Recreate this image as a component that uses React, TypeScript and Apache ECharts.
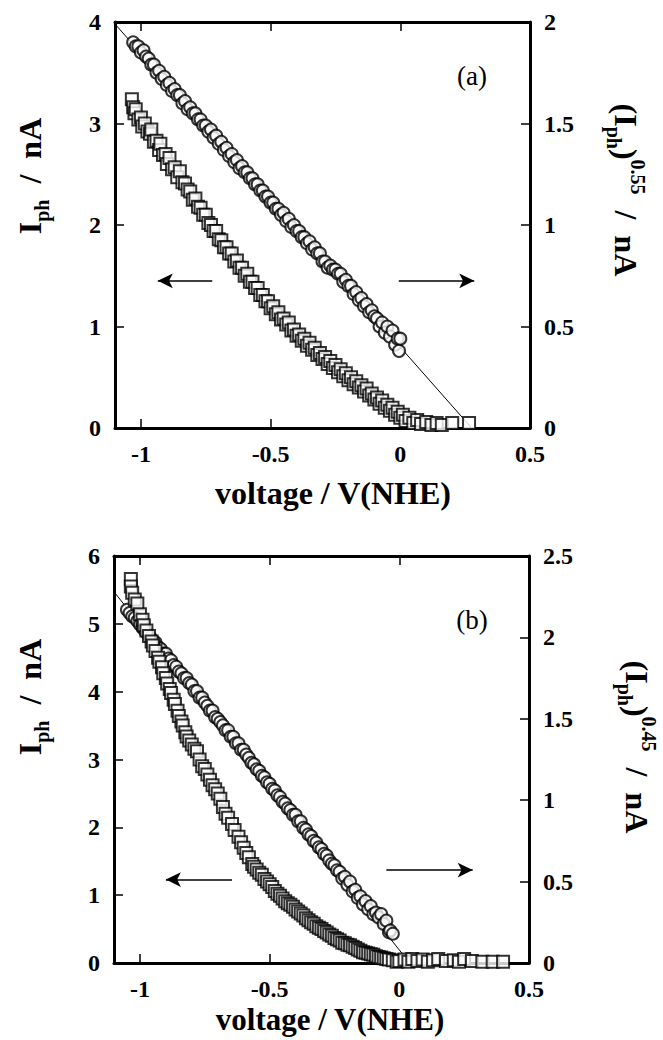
import React, { useEffect, useRef } from "react";
import * as echarts from "echarts";

const FONT = '"Liberation Serif", "Times New Roman", serif';

// tick labels
const xTicks = [-1, -0.5, 0, 0.5];

// Panel (a): photocurrent (left axis, nA) - squares
const squaresA: number[][] = [
  [-1.035, 3.24], [-1.03, 3.16], [-1.025, 3.1], [-1.02, 3.14], [-1.01, 3.04], [-1.0, 3.06], [-0.995, 2.97],
  [-0.985, 3.0], [-0.975, 2.92], [-0.965, 2.9], [-0.96, 2.94], [-0.95, 2.82], [-0.94, 2.83], [-0.93, 2.74],
  [-0.925, 2.8], [-0.915, 2.69], [-0.905, 2.7], [-0.9, 2.6], [-0.89, 2.66], [-0.88, 2.55], [-0.87, 2.57],
  [-0.86, 2.47], [-0.85, 2.53], [-0.84, 2.42], [-0.83, 2.41], [-0.82, 2.35], [-0.81, 2.33], [-0.8, 2.25],
  [-0.79, 2.26], [-0.78, 2.18], [-0.77, 2.17], [-0.76, 2.1], [-0.75, 2.1], [-0.74, 2.02], [-0.73, 2.0],
  [-0.72, 1.94], [-0.71, 1.94], [-0.7, 1.86], [-0.69, 1.85], [-0.68, 1.78], [-0.67, 1.78], [-0.66, 1.72],
  [-0.65, 1.72], [-0.64, 1.64], [-0.63, 1.65], [-0.62, 1.58], [-0.61, 1.58], [-0.6, 1.5], [-0.59, 1.52],
  [-0.58, 1.44], [-0.57, 1.44], [-0.56, 1.38], [-0.55, 1.38], [-0.54, 1.31], [-0.53, 1.31], [-0.52, 1.25],
  [-0.51, 1.25], [-0.5, 1.18], [-0.49, 1.2], [-0.48, 1.12], [-0.47, 1.14], [-0.46, 1.07], [-0.45, 1.08],
  [-0.44, 1.02], [-0.43, 1.04], [-0.42, 0.96], [-0.41, 0.97], [-0.4, 0.91], [-0.39, 0.92], [-0.38, 0.86],
  [-0.37, 0.88], [-0.36, 0.81], [-0.35, 0.84], [-0.34, 0.77], [-0.33, 0.79], [-0.32, 0.72], [-0.31, 0.74],
  [-0.3, 0.68], [-0.29, 0.7], [-0.28, 0.63], [-0.27, 0.66], [-0.26, 0.59], [-0.25, 0.62], [-0.24, 0.55],
  [-0.23, 0.58], [-0.22, 0.51], [-0.21, 0.54], [-0.2, 0.47], [-0.19, 0.5], [-0.18, 0.43], [-0.17, 0.46],
  [-0.16, 0.4], [-0.15, 0.42], [-0.14, 0.36], [-0.13, 0.39], [-0.12, 0.32], [-0.11, 0.34], [-0.1, 0.28],
  [-0.09, 0.3], [-0.08, 0.24], [-0.07, 0.27], [-0.06, 0.2], [-0.05, 0.23], [-0.04, 0.17], [-0.03, 0.2],
  [-0.02, 0.13], [-0.01, 0.16], [0.0, 0.1], [0.01, 0.13], [0.02, 0.07], [0.035, 0.1], [0.05, 0.05],
  [0.065, 0.08], [0.08, 0.04], [0.1, 0.06], [0.12, 0.03], [0.14, 0.05], [0.16, 0.03], [0.2, 0.05],
  [0.265, 0.05],
];

// Panel (a): (Iph)^0.55 (right axis) - circles
const circlesA: number[][] = [
  [-1.03, 1.9], [-1.02, 1.88], [-1.01, 1.88], [-1.0, 1.85], [-0.99, 1.86], [-0.98, 1.83], [-0.97, 1.82],
  [-0.96, 1.79], [-0.95, 1.79], [-0.94, 1.75], [-0.93, 1.76], [-0.92, 1.72], [-0.91, 1.73], [-0.9, 1.69],
  [-0.89, 1.7], [-0.88, 1.66], [-0.87, 1.67], [-0.86, 1.64], [-0.85, 1.64], [-0.84, 1.6], [-0.83, 1.61],
  [-0.82, 1.57], [-0.81, 1.58], [-0.8, 1.55], [-0.79, 1.55], [-0.78, 1.52], [-0.77, 1.52], [-0.76, 1.49],
  [-0.75, 1.49], [-0.74, 1.46], [-0.73, 1.47], [-0.72, 1.43], [-0.71, 1.44], [-0.7, 1.4], [-0.69, 1.41],
  [-0.68, 1.37], [-0.67, 1.38], [-0.66, 1.34], [-0.65, 1.35], [-0.64, 1.31], [-0.63, 1.32], [-0.62, 1.28],
  [-0.61, 1.29], [-0.6, 1.26], [-0.59, 1.26], [-0.58, 1.23], [-0.57, 1.23], [-0.56, 1.2], [-0.55, 1.2],
  [-0.54, 1.17], [-0.53, 1.17], [-0.52, 1.14], [-0.51, 1.14], [-0.5, 1.11], [-0.49, 1.11], [-0.48, 1.08],
  [-0.47, 1.08], [-0.46, 1.05], [-0.45, 1.06], [-0.44, 1.02], [-0.43, 1.03], [-0.42, 0.99], [-0.41, 1.0],
  [-0.4, 0.97], [-0.39, 0.97], [-0.38, 0.94], [-0.37, 0.94], [-0.36, 0.91], [-0.35, 0.92], [-0.34, 0.88],
  [-0.33, 0.89], [-0.32, 0.86], [-0.31, 0.86], [-0.3, 0.82], [-0.29, 0.82], [-0.28, 0.79], [-0.27, 0.8],
  [-0.26, 0.78], [-0.25, 0.78], [-0.24, 0.76], [-0.23, 0.76], [-0.22, 0.72], [-0.21, 0.73], [-0.2, 0.7],
  [-0.19, 0.7], [-0.18, 0.66], [-0.17, 0.67], [-0.16, 0.63], [-0.15, 0.64], [-0.14, 0.6], [-0.13, 0.61],
  [-0.12, 0.57], [-0.11, 0.58], [-0.1, 0.55], [-0.09, 0.54], [-0.08, 0.5], [-0.07, 0.52], [-0.06, 0.47],
  [-0.05, 0.5], [-0.04, 0.45], [-0.03, 0.48], [-0.02, 0.41], [-0.01, 0.44], [-0.005, 0.38], [0.0, 0.44],
];

// Panel (b): photocurrent (left axis, nA) - squares
const squaresB: number[][] = [
  [-1.035, 5.66], [-1.035, 5.55], [-1.03, 5.46], [-1.02, 5.36], [-1.01, 5.3], [-1.0, 5.14], [-0.99, 5.06],
  [-0.985, 4.98], [-0.975, 4.9], [-0.965, 4.82], [-0.955, 4.74], [-0.95, 4.68], [-0.94, 4.6], [-0.93, 4.5],
  [-0.925, 4.44], [-0.915, 4.36], [-0.91, 4.27], [-0.9, 4.2], [-0.895, 4.12], [-0.885, 4.04], [-0.88, 3.98],
  [-0.87, 3.88], [-0.865, 3.82], [-0.855, 3.72], [-0.85, 3.64], [-0.84, 3.56], [-0.835, 3.5], [-0.825, 3.4],
  [-0.82, 3.34], [-0.81, 3.28], [-0.8, 3.22], [-0.79, 3.16], [-0.78, 3.12], [-0.77, 3.0], [-0.76, 2.9],
  [-0.75, 2.86], [-0.74, 2.78], [-0.73, 2.7], [-0.72, 2.62], [-0.71, 2.56], [-0.7, 2.5], [-0.69, 2.42],
  [-0.68, 2.3], [-0.67, 2.2], [-0.66, 2.14], [-0.645, 2.05], [-0.635, 1.96], [-0.62, 1.86], [-0.61, 1.78],
  [-0.6, 1.7], [-0.59, 1.62], [-0.58, 1.56], [-0.567, 1.46], [-0.56, 1.42], [-0.55, 1.38], [-0.54, 1.33],
  [-0.53, 1.3], [-0.52, 1.24], [-0.51, 1.2], [-0.5, 1.16], [-0.49, 1.12], [-0.48, 1.06], [-0.47, 1.02],
  [-0.46, 0.99], [-0.45, 0.95], [-0.44, 0.91], [-0.43, 0.88], [-0.42, 0.86], [-0.41, 0.83], [-0.4, 0.79],
  [-0.39, 0.76], [-0.38, 0.73], [-0.37, 0.7], [-0.36, 0.66], [-0.35, 0.63], [-0.34, 0.6], [-0.33, 0.58],
  [-0.32, 0.54], [-0.31, 0.52], [-0.3, 0.5], [-0.29, 0.47], [-0.28, 0.45], [-0.27, 0.42], [-0.26, 0.4],
  [-0.25, 0.37], [-0.24, 0.35], [-0.23, 0.33], [-0.22, 0.3], [-0.21, 0.29], [-0.2, 0.27], [-0.19, 0.26],
  [-0.18, 0.24], [-0.17, 0.22], [-0.16, 0.2], [-0.15, 0.18], [-0.14, 0.16], [-0.13, 0.15], [-0.12, 0.14],
  [-0.11, 0.13], [-0.1, 0.12], [-0.09, 0.1], [-0.08, 0.09], [-0.07, 0.08], [-0.06, 0.07], [-0.05, 0.06],
  [-0.04, 0.05], [-0.025, 0.04], [-0.01, 0.02], [0.0, 0.03], [0.02, 0.05], [0.035, 0.02], [0.05, 0.06],
  [0.07, 0.03], [0.09, 0.05], [0.11, 0.02], [0.13, 0.04], [0.15, 0.06], [0.18, 0.03], [0.21, 0.04],
  [0.23, 0.02], [0.25, 0.06], [0.28, 0.03], [0.32, 0.02], [0.36, 0.02], [0.4, 0.02],
];

// Panel (b): (Iph)^0.45 (right axis) - circles
const circlesB: number[][] = [
  [-1.05, 2.17], [-1.04, 2.15], [-1.03, 2.13], [-1.02, 2.12], [-1.01, 2.1], [-1.0, 2.08], [-0.99, 2.06],
  [-0.98, 2.04], [-0.97, 2.02], [-0.96, 2.0], [-0.95, 1.98], [-0.94, 1.97], [-0.93, 1.94], [-0.92, 1.93],
  [-0.91, 1.9], [-0.9, 1.9], [-0.89, 1.87], [-0.88, 1.86], [-0.87, 1.83], [-0.86, 1.82], [-0.85, 1.79],
  [-0.84, 1.78], [-0.83, 1.75], [-0.82, 1.75], [-0.81, 1.72], [-0.8, 1.71], [-0.79, 1.67], [-0.78, 1.67],
  [-0.77, 1.63], [-0.76, 1.63], [-0.75, 1.6], [-0.74, 1.58], [-0.73, 1.55], [-0.72, 1.55], [-0.71, 1.51],
  [-0.7, 1.5], [-0.69, 1.48], [-0.68, 1.46], [-0.67, 1.43], [-0.66, 1.43], [-0.65, 1.39], [-0.64, 1.39],
  [-0.63, 1.35], [-0.62, 1.35], [-0.61, 1.31], [-0.6, 1.31], [-0.59, 1.28], [-0.58, 1.26], [-0.57, 1.23],
  [-0.56, 1.22], [-0.55, 1.19], [-0.54, 1.18], [-0.53, 1.15], [-0.52, 1.14], [-0.51, 1.11], [-0.5, 1.1],
  [-0.49, 1.07], [-0.48, 1.06], [-0.47, 1.03], [-0.46, 1.02], [-0.45, 0.99], [-0.44, 0.98], [-0.43, 0.95],
  [-0.42, 0.94], [-0.41, 0.91], [-0.4, 0.91], [-0.39, 0.87], [-0.38, 0.87], [-0.37, 0.83], [-0.36, 0.82],
  [-0.35, 0.79], [-0.34, 0.78], [-0.33, 0.75], [-0.32, 0.74], [-0.31, 0.71], [-0.3, 0.7], [-0.29, 0.67],
  [-0.28, 0.66], [-0.27, 0.63], [-0.26, 0.61], [-0.25, 0.6], [-0.24, 0.57], [-0.23, 0.56], [-0.22, 0.52],
  [-0.21, 0.53], [-0.2, 0.48], [-0.19, 0.5], [-0.18, 0.44], [-0.17, 0.45], [-0.16, 0.4], [-0.15, 0.41],
  [-0.14, 0.36], [-0.13, 0.38], [-0.12, 0.33], [-0.11, 0.35], [-0.1, 0.3], [-0.09, 0.31], [-0.08, 0.28],
  [-0.07, 0.3], [-0.06, 0.24], [-0.05, 0.26], [-0.04, 0.19], [-0.035, 0.2], [-0.025, 0.18],
];

// fitted straight lines (right axis units)
const fitLineA: number[][] = [[-1.1, 1.99], [0.275, 0]];
const fitLineB: number[][] = [[-1.1, 2.28], [0.04, 0]];

// arrows (left axis units): [tail, head]
const arrowsA: number[][][] = [
  [[-0.725, 1.45], [-0.935, 1.45]],
  [[-0.006, 1.45], [0.285, 1.45]],
];
const arrowsB: number[][][] = [
  [[-0.645, 1.23], [-0.9, 1.23]],
  [[-0.05, 1.37], [0.283, 1.37]],
];

const axisLineStyle = { color: "#000", width: 3 };
const tickStyle = { color: "#000", width: 1.5 };
const labelStyle = {
  color: "#000",
  fontFamily: FONT,
  fontWeight: "bold" as const,
  fontSize: 24,
};

function xAxes(gridIndex: number) {
  return [
    {
      gridIndex,
      type: "value",
      min: -1.1,
      max: 0.5,
      position: "bottom",
      axisLine: { show: true, onZero: false, lineStyle: axisLineStyle },
      axisTick: { show: true, inside: true, length: 9, lineStyle: tickStyle, customValues: xTicks },
      axisLabel: { ...labelStyle, show: true, margin: 14, customValues: xTicks, formatter: (v: number) => String(v) },
      splitLine: { show: false },
    },
    {
      gridIndex,
      type: "value",
      min: -1.1,
      max: 0.5,
      position: "top",
      axisLine: { show: true, onZero: false, lineStyle: axisLineStyle },
      axisTick: { show: true, inside: true, length: 9, lineStyle: tickStyle, customValues: xTicks },
      axisLabel: { show: false },
      splitLine: { show: false },
    },
  ];
}

function yAxis(gridIndex: number, position: string, max: number, interval: number) {
  return {
    gridIndex,
    type: "value",
    min: 0,
    max,
    interval,
    position,
    axisLine: { show: true, onZero: false, lineStyle: axisLineStyle },
    axisTick: { show: true, inside: true, length: 9, lineStyle: tickStyle },
    axisLabel: { ...labelStyle, show: true, margin: 14 },
    splitLine: { show: false },
  };
}

const markerStyle = { color: "#fff", borderColor: "#000", borderWidth: 2 };

function arrowMarkLine(arrows: number[][][]) {
  return {
    silent: true,
    symbol: ["none", "arrow"],
    symbolSize: [11, 15],
    label: { show: false },
    lineStyle: { color: "#000", width: 1.5, type: "solid" },
    emphasis: { disabled: true },
    data: arrows.map((a) => [{ coord: a[0] }, { coord: a[1] }]),
  };
}

function titleText(x: number, y: number, rotation: number, text: string) {
  return {
    type: "text",
    x,
    y,
    rotation,
    style: {
      text,
      align: "center",
      verticalAlign: "middle",
      fill: "#000",
      rich: {
        b: { fontFamily: FONT, fontWeight: "bold", fontSize: 32, lineHeight: 44, fill: "#000" },
        s: { fontFamily: FONT, fontWeight: "bold", fontSize: 20, lineHeight: 20, verticalAlign: "bottom", fill: "#000" },
        p: { fontFamily: FONT, fontWeight: "bold", fontSize: 20, lineHeight: 20, verticalAlign: "top", fill: "#000" },
      },
    },
  };
}

export default function App() {
  const ref = useRef<HTMLDivElement>(null);
  useEffect(() => {
    if (!ref.current) return;
    const chart = echarts.init(ref.current, null, { renderer: "svg" });
    const option: any = {
      animation: false,
      backgroundColor: "#fff",
      grid: [
        { left: 115, top: 22, width: 415, height: 406 },
        { left: 114, top: 556, width: 415, height: 407 },
      ],
      xAxis: [...xAxes(0), ...xAxes(1)],
      yAxis: [
        yAxis(0, "left", 4, 1),
        yAxis(0, "right", 2, 0.5),
        yAxis(1, "left", 6, 1),
        yAxis(1, "right", 2.5, 0.5),
      ],
      series: [
        {
          type: "line",
          xAxisIndex: 0,
          yAxisIndex: 1,
          data: fitLineA,
          symbol: "none",
          lineStyle: { color: "#000", width: 1 },
          z: 1,
        },
        {
          type: "scatter",
          xAxisIndex: 0,
          yAxisIndex: 1,
          data: circlesA,
          symbol: "circle",
          symbolSize: 12,
          itemStyle: markerStyle,
          z: 2,
        },
        {
          type: "scatter",
          xAxisIndex: 0,
          yAxisIndex: 0,
          data: squaresA,
          symbol: "rect",
          symbolSize: 12,
          itemStyle: markerStyle,
          z: 3,
          markLine: arrowMarkLine(arrowsA),
        },
        {
          type: "line",
          xAxisIndex: 2,
          yAxisIndex: 3,
          data: fitLineB,
          symbol: "none",
          lineStyle: { color: "#000", width: 1 },
          z: 1,
        },
        {
          type: "scatter",
          xAxisIndex: 2,
          yAxisIndex: 3,
          data: circlesB,
          symbol: "circle",
          symbolSize: 12,
          itemStyle: markerStyle,
          z: 2,
        },
        {
          type: "scatter",
          xAxisIndex: 2,
          yAxisIndex: 2,
          data: squaresB,
          symbol: "rect",
          symbolSize: 12,
          itemStyle: markerStyle,
          z: 3,
          markLine: arrowMarkLine(arrowsB),
        },
      ],
      graphic: [
        titleText(30, 176, Math.PI / 2, "{b|I}{s|ph}{b|  /  nA}"),
        titleText(626, 190, -Math.PI / 2, "{b|(I}{s|ph}{b|)}{p|0.55}{b|  /  nA}"),
        titleText(30, 697, Math.PI / 2, "{b|I}{s|ph}{b|  /  nA}"),
        titleText(637, 747, -Math.PI / 2, "{b|(I}{s|ph}{b|)}{p|0.45}{b|  /  nA}"),
        {
          type: "text",
          x: 333,
          y: 493,
          style: { text: "voltage / V(NHE)", align: "center", verticalAlign: "middle", fill: "#000", fontFamily: FONT, fontWeight: "bold", fontSize: 32 },
        },
        {
          type: "text",
          x: 330,
          y: 1019,
          style: { text: "voltage / V(NHE)", align: "center", verticalAlign: "middle", fill: "#000", fontFamily: FONT, fontWeight: "bold", fontSize: 31 },
        },
        {
          type: "text",
          x: 472,
          y: 76,
          style: { text: "(a)", align: "center", verticalAlign: "middle", fill: "#000", fontFamily: FONT, fontSize: 27 },
        },
        {
          type: "text",
          x: 472,
          y: 620,
          style: { text: "(b)", align: "center", verticalAlign: "middle", fill: "#000", fontFamily: FONT, fontSize: 27 },
        },
      ],
    };
    chart.setOption(option);
    return () => chart.dispose();
  }, []);
  return (
    <div
      ref={ref}
      style={{ position: "absolute", left: 0, top: 0, width: 663, height: 1040, background: "#fff" }}
    />
  );
}
